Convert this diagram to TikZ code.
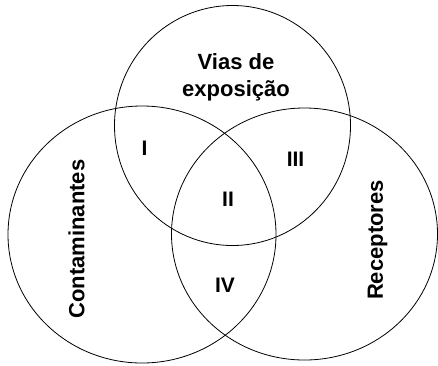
\documentclass[tikz,border=0pt]{standalone}
\usepackage{fontspec}
\setmainfont{Liberation Sans}
\begin{document}
\begin{tikzpicture}[x=1pt,y=-1pt,
  ring/.style={draw=black,line width=0.8pt},
  lbl/.style={font=\fontsize{22}{27}\selectfont\bfseries,inner sep=0pt,text height=15.8pt,text depth=0pt},
  num/.style={font=\fontsize{21}{25}\selectfont\bfseries,inner sep=0pt,text height=15pt,text depth=0pt}]
\useasboundingbox (0,0) rectangle (438,365);
\fill[white] (0,0) rectangle (438,365);
\draw[ring] (232.5,125.5) ellipse [x radius=118, y radius=120];
\draw[ring] (142,234.5) ellipse [x radius=134, y radius=128.5];
\draw[ring] (304.5,234) ellipse [x radius=133, y radius=126];
\node[font=\fontsize{22}{27}\selectfont\bfseries,align=center,inner sep=0pt,anchor=base] (vias) at (236,96) {Vias de\\exposição};
\node[lbl,rotate=90] (cont) at (76.5,239) {Contaminantes};
\node[lbl,rotate=90] (rec) at (375,240) {Receptores};
\node[num] (r1) at (144.5,147.5) {I};
\node[num] (r2) at (228,199) {II};
\node[num] (r3) at (295.5,159) {III};
\node[num] (r4) at (225,285) {IV};
\end{tikzpicture}
\end{document}
